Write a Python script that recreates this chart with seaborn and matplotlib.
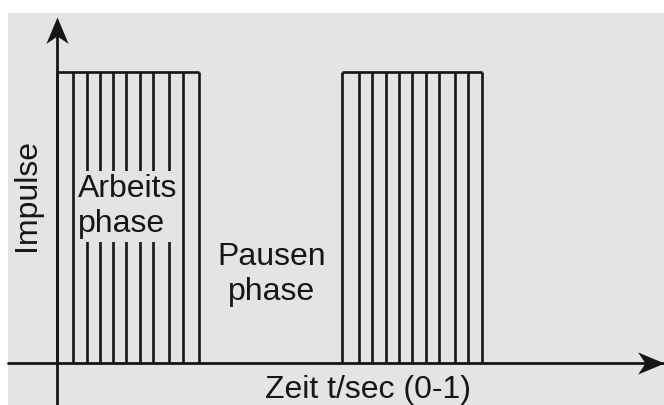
import numpy as np
import matplotlib
matplotlib.use("Agg")
import matplotlib.pyplot as plt
from matplotlib.path import Path
import seaborn as sns

# pulse times in seconds
arbeits_t = [0.000, 0.027, 0.051, 0.075, 0.097, 0.121, 0.145, 0.168, 0.196, 0.220, 0.248]
pause_t = [0.500, 0.529, 0.552, 0.576, 0.599, 0.622, 0.646, 0.669, 0.697, 0.721, 0.744]
impuls_hoehe = 1.0

labels = {
    'arbeit': 'Arbeits\nphase',
    'pause': 'Pausen\nphase',
    'x': 'Zeit t/sec (0-1)',
    'y': 'Impulse',
}

bg = '#e4e4e4'
ink = '#161616'

sns.set_theme(style='white', rc={'axes.facecolor': bg, 'figure.facecolor': 'white'})
plt.rcParams['font.family'] = ['Liberation Sans', 'DejaVu Sans']

fig = plt.figure(figsize=(6.64, 4.05), dpi=100)
ax = fig.add_axes([8 / 664, 0, 656 / 664, 392 / 405])
ax.set_xlim(-0.0868, 1.064)
ax.set_ylim(-0.1446, 1.2048)
ax.set_axis_off()
ax.add_patch(plt.Rectangle((0, 0), 1, 1, transform=ax.transAxes,
                           facecolor=bg, edgecolor='none', zorder=0))

# pulse blocks
for block in [arbeits_t, pause_t]:
    ax.vlines(block, 0, impuls_hoehe, color=ink, lw=1.9, zorder=2)
    ax.hlines(impuls_hoehe, block[0], block[-1], color=ink, lw=1.9, zorder=2)

# axes with stealth arrow heads
x0, x1 = ax.get_xlim()
y0, y1 = ax.get_ylim()
y_tip = 1.191
ax.plot([x0, x1], [0, 0], color=ink, lw=2.0, zorder=3, clip_on=False)
ax.plot([0, 0], [y0, y_tip - 0.05], color=ink, lw=2.0, zorder=3, clip_on=False)

up_head = Path([(0, 0), (0.42, -1), (0, -0.72), (-0.42, -1), (0, 0)],
               [Path.MOVETO, Path.LINETO, Path.LINETO, Path.LINETO, Path.CLOSEPOLY])
right_head = Path([(0, 0), (-1, 0.42), (-0.72, 0), (-1, -0.42), (0, 0)],
                  [Path.MOVETO, Path.LINETO, Path.LINETO, Path.LINETO, Path.CLOSEPOLY])
ax.plot([0], [y_tip], marker=up_head, ms=38, color=ink, mew=0, zorder=4, clip_on=False)
ax.plot([x1], [0], marker=right_head, ms=38, color=ink, mew=0, zorder=4, clip_on=False)

fs = 23
# va='baseline' puts the last line's baseline at y
ax.text(0.036, 0.451, labels['arbeit'], fontsize=fs, color=ink, ha='left', va='baseline',
        linespacing=1.2, zorder=5,
        bbox=dict(boxstyle='square,pad=0.1', facecolor=bg, edgecolor='none'))
ax.text(0.376, 0.217, labels['pause'], fontsize=fs, color=ink, ha='center', va='baseline',
        multialignment='center', linespacing=1.2, zorder=5)
ax.text(0.544, -0.120, labels['x'], fontsize=fs, color=ink, ha='center', va='baseline', zorder=5)
ax.text(-0.0535, 0.578, labels['y'], fontsize=fs, color=ink, ha='center', va='center',
        rotation=90, zorder=5)

fig.savefig('out.png', dpi=100)
